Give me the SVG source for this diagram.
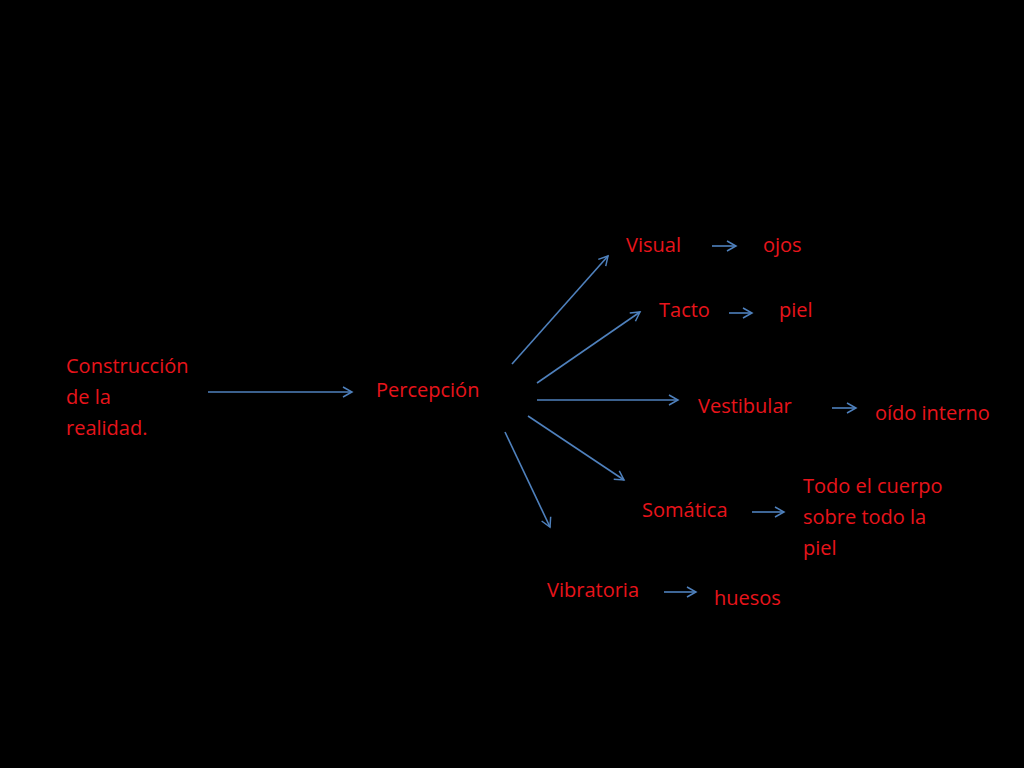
<svg xmlns="http://www.w3.org/2000/svg" width="1024" height="768" viewBox="0 0 1024 768">
<defs>
<marker id="a" markerWidth="12" markerHeight="12" refX="10" refY="6" orient="auto" markerUnits="userSpaceOnUse">
<path d="M1,1 L10,6 L1,11" fill="none" stroke="#4F81BD" stroke-width="1.5"/>
</marker>
<style>
text{font-family:"Open Sans","Liberation Sans",sans-serif;font-size:20px;fill:#E8141B}
line{stroke:#4F81BD;stroke-width:1.6;marker-end:url(#a)}
</style>
</defs>
<rect width="1024" height="768" fill="#000"/>
<g id="connectors">
<line x1="208" y1="392" x2="352" y2="392"/>
<line x1="512" y1="364" x2="608" y2="256"/>
<line x1="537" y1="383" x2="640" y2="312"/>
<line x1="537" y1="400" x2="678" y2="400"/>
<line x1="528" y1="416" x2="624" y2="480"/>
<line x1="505" y1="432" x2="550" y2="527"/>
<line x1="712" y1="246" x2="736" y2="246"/>
<line x1="729" y1="313" x2="752" y2="313"/>
<line x1="832" y1="408" x2="856" y2="408"/>
<line x1="752" y1="512" x2="784" y2="512"/>
<line x1="664" y1="592" x2="696" y2="592"/>
</g>
<g id="construccion"><text x="66" y="373">Construcción</text><text x="66" y="404">de la</text><text x="66" y="435">realidad.</text></g>
<g id="percepcion"><text x="376" y="397">Percepción</text></g>
<g id="visual"><text x="626" y="252">Visual</text></g>
<g id="ojos"><text x="763" y="252">ojos</text></g>
<g id="tacto"><text x="659" y="317">Tacto</text></g>
<g id="piel"><text x="779" y="317">piel</text></g>
<g id="vestibular"><text x="698" y="413">Vestibular</text></g>
<g id="oido"><text x="875" y="420">oído interno</text></g>
<g id="somatica"><text x="642" y="517">Somática</text></g>
<g id="cuerpo"><text x="803" y="493">Todo el cuerpo</text><text x="803" y="524">sobre todo la</text><text x="803" y="555">piel</text></g>
<g id="vibratoria"><text x="547" y="597">Vibratoria</text></g>
<g id="huesos"><text x="714" y="605">huesos</text></g>
</svg>
